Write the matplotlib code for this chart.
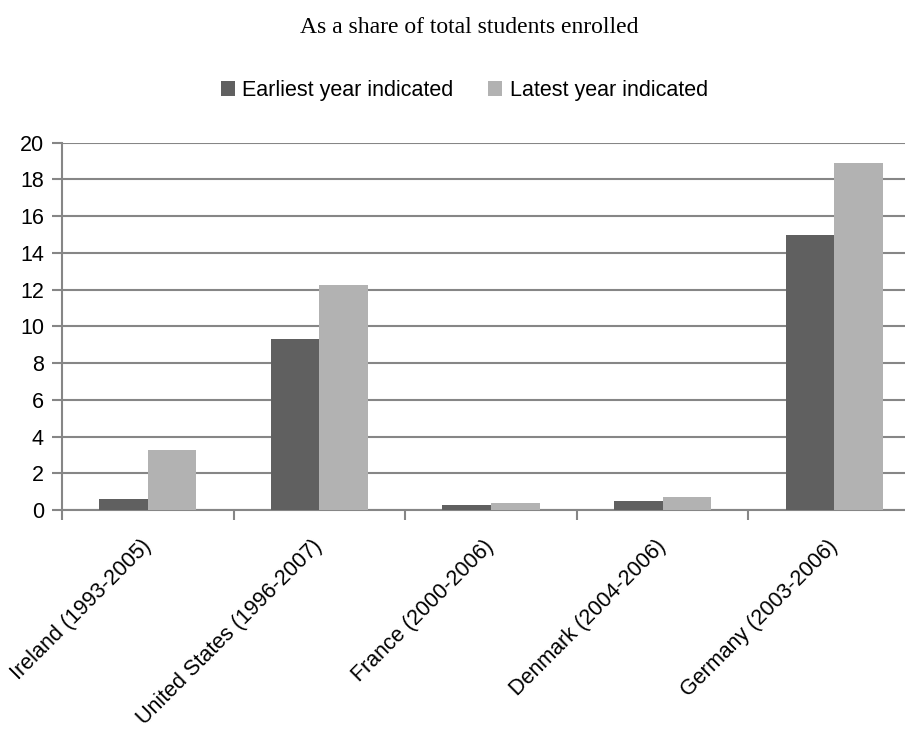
import matplotlib.pyplot as plt
import numpy as np

plt.rcParams['font.family'] = ['Liberation Sans', 'DejaVu Sans']

# Datos
countries = ['Ireland (1993-2005)', 'United States (1996-2007)', 'France (2000-2006)',
             'Denmark (2004-2006)', 'Germany (2003-2006)']
earliest = [0.6, 9.3, 0.27, 0.5, 14.95]
latest = [3.24, 12.25, 0.38, 0.7, 18.9]

dark = '#606060'
light = '#b2b2b2'
grey = '#868686'

fig = plt.figure(figsize=(9.05, 7.29), dpi=100)
ax = fig.add_axes([0.0685, 0.3004, 0.948, 0.504])

x = np.arange(len(countries))
w = 0.283
ax.bar(x - w / 2, earliest, w, color=dark, label='Earliest year indicated', zorder=3)
ax.bar(x + w / 2, latest, w, color=light, label='Latest year indicated', zorder=3)

ax.set_xlim(-0.5, len(countries) - 0.5)
ax.set_ylim(0, 20)
ax.set_yticks(np.arange(0, 21, 2))
ax.yaxis.grid(True, color=grey, linewidth=1.5, zorder=0)

for s in ['top', 'right']:
    ax.spines[s].set_visible(False)
for s in ['left', 'bottom']:
    ax.spines[s].set_color(grey)
    ax.spines[s].set_linewidth(1.5)

ax.tick_params(axis='y', length=7, width=1.5, color=grey, labelsize=15.5, pad=6)

# separadores de categoría como ticks menores
ax.set_xticks(np.arange(-0.5, len(countries)), minor=True)
ax.set_xticks(x)
ax.set_xticklabels(countries, rotation=45, ha='right', va='center',
                   rotation_mode='anchor', fontsize=15.5)
ax.tick_params(axis='x', which='minor', length=7, width=1.5, color=grey)
ax.tick_params(axis='x', which='major', length=0, pad=24)

fig.text(0.518, 0.962, 'As a share of total students enrolled', ha='center', va='center',
         fontsize=17, family='Liberation Serif')

fig.legend(loc='center', bbox_to_anchor=(0.513, 0.876), ncol=2, frameon=False,
           fontsize=15.5, handlelength=0.65, handleheight=0.65, handletextpad=0.35,
           columnspacing=1.6)

fig.savefig('out.png', dpi=100)
